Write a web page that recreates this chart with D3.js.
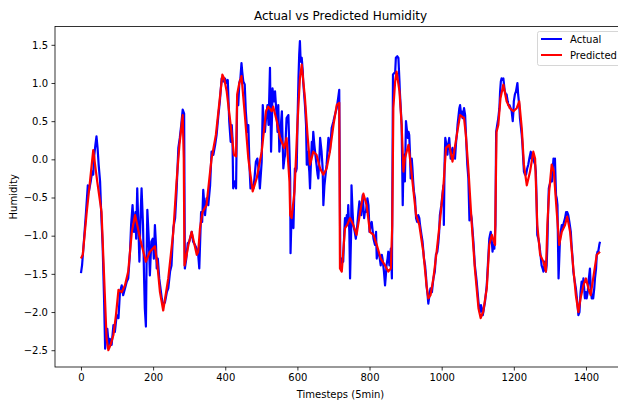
<!DOCTYPE html>
<html>
<head>
<meta charset="utf-8">
<script src="https://cdn.jsdelivr.net/npm/d3@7"></script>
<style>
    body { margin: 0; background: #fff; }
    svg text { font-family: "DejaVu Sans", sans-serif; fill: #000; }
</style>
</head>
<body>
<svg id="chart" width="618" height="403"></svg>
<script>
"use strict";

// [timestep, humidity]
const actualSeries = [
    [0,-1.49],[3,-1.39],[8,-1.08],[14,-0.69],[19,-0.34],[22,-0.42],[27,-0.29],[31,-0.16],[34,-0.20],[37,0.06],
    [40,0.19],[43,0.30],[46,0.15],[49,-0.07],[53,-0.29],[56,-0.69],[60,-1.12],[64,-1.82],[67,-2.48],[70,-2.30],
    [73,-2.22],[77,-2.43],[80,-2.35],[85,-2.43],[90,-2.17],[94,-2.26],[99,-2.04],[104,-2.08],[108,-1.74],[113,-1.65],
    [117,-1.78],[122,-1.69],[127,-1.60],[131,-1.56],[136,-1.21],[139,-0.86],[143,-0.60],[147,-0.95],[151,-0.69],[153,-1.04],
    [156,-0.38],[159,-0.86],[162,-1.34],[165,-0.77],[168,-0.38],[172,-0.86],[175,-1.56],[177,-1.95],[180,-2.19],[182,-1.30],
    [184,-0.66],[188,-1.04],[191,-1.52],[195,-1.08],[199,-1.04],[202,-1.30],[205,-0.86],[208,-1.12],[210,-1.43],[213,-1.30],
    [217,-1.56],[224,-1.82],[228,-1.91],[233,-1.87],[238,-1.74],[242,-1.69],[247,-1.47],[251,-1.39],[256,-0.90],[261,-0.77],
    [265,-0.42],[270,0.15],[274,0.28],[278,0.45],[282,0.65],[286,0.60],[288,-1.43],[292,-1.30],[296,-1.10],[300,-1.08],
    [307,-0.95],[311,-1.08],[316,-1.12],[321,-1.17],[325,-1.25],[328,-1.43],[333,-0.69],[336,-0.82],[339,-0.40],[344,-0.73],
    [348,-0.51],[353,-0.60],[358,-0.34],[362,0.10],[367,0.06],[372,0.19],[376,0.32],[381,0.58],[385,0.76],[390,1.06],
    [395,1.02],[399,1.06],[404,1.00],[407,1.04],[411,0.50],[415,0.23],[418,0.45],[420,0.28],[422,-0.38],[426,-0.29],
    [430,-0.38],[433,0.76],[436,0.71],[439,1.00],[442,1.06],[445,1.26],[447,1.15],[450,1.02],[454,0.98],[457,0.63],
    [461,0.36],[464,0.45],[467,-0.07],[470,-0.38],[474,-0.34],[478,-0.38],[481,-0.25],[485,-0.03],[489,0.01],[493,-0.16],
    [496,-0.38],[501,-0.03],[504,0.71],[507,0.45],[510,0.36],[513,0.54],[517,0.71],[520,0.45],[524,1.20],[527,0.10],
    [530,0.63],[531,0.93],[535,0.76],[538,0.89],[541,0.67],[543,0.54],[545,0.36],[547,0.71],[550,0.10],[553,0.32],
    [555,0.50],[557,0.63],[561,-0.12],[564,0.01],[566,0.06],[568,0.32],[570,0.54],[575,0.58],[578,0.10],[580,-0.25],
    [581,-1.23],[584,-0.69],[586,-0.82],[589,-0.90],[591,-0.51],[593,-0.12],[596,-0.16],[598,-0.12],[601,0.63],[603,1.06],
    [605,1.37],[607,1.55],[609,1.28],[612,1.33],[615,1.15],[616,1.02],[621,0.71],[624,0.45],[626,-0.07],[628,0.10],
    [630,0.01],[633,-0.16],[635,-0.38],[638,0.01],[640,0.23],[642,0.10],[644,0.36],[647,0.19],[649,0.10],[652,-0.03],
    [653,-0.07],[656,-0.20],[658,-0.25],[661,0.01],[663,0.28],[665,0.19],[667,0.10],[670,-0.12],[672,-0.60],[675,-0.34],
    [677,-0.25],[681,-0.07],[686,0.28],[689,0.19],[690,0.10],[695,0.41],[700,0.50],[704,0.58],[709,0.67],[713,0.80],
    [716,0.91],[719,-1.39],[723,-1.30],[727,-1.34],[730,-0.95],[732,-0.77],[735,-0.86],[737,-0.73],[739,-0.86],[741,-0.60],
    [744,-0.95],[746,-1.56],[749,-0.95],[750,-0.34],[753,-0.69],[755,-0.86],[759,-0.95],[762,-1.04],[766,-0.86],[769,-0.69],
    [772,-0.55],[774,-0.60],[777,-0.73],[781,-0.47],[785,-0.77],[787,-0.69],[790,-0.69],[794,-0.51],[797,-0.60],[800,-0.95],
    [803,-0.86],[806,-0.82],[811,-1.04],[815,-1.12],[818,-0.95],[820,-1.30],[823,-1.21],[827,-1.25],[831,-1.39],[834,-1.25],
    [836,-1.30],[840,-1.47],[843,-1.65],[846,-1.47],[847,-1.39],[850,-1.30],[852,-1.21],[855,-1.39],[859,-1.17],[862,-1.56],
    [865,1.11],[868,1.13],[871,1.13],[873,1.33],[877,1.35],[880,1.33],[883,1.02],[884,0.89],[887,0.63],[889,0.45],
    [892,-0.60],[894,-0.07],[896,0.06],[898,-0.29],[901,0.50],[903,0.41],[906,0.28],[908,0.36],[910,0.32],[912,0.10],
    [914,-0.25],[917,0.01],[919,-0.12],[921,-0.29],[923,-0.42],[926,-0.51],[929,-0.77],[932,-0.82],[935,-0.73],[938,-0.77],
    [940,-0.86],[944,-0.99],[947,-1.08],[951,-1.30],[954,-1.39],[957,-1.56],[958,-1.65],[961,-1.78],[963,-1.89],[966,-1.78],
    [969,-1.69],[973,-1.74],[977,-1.56],[981,-1.47],[984,-1.25],[988,-1.21],[991,-1.08],[993,-0.95],[995,-0.73],[999,-0.60],
    [1003,-0.42],[1005,-0.34],[1006,-0.86],[1008,-0.07],[1010,0.28],[1013,0.19],[1016,0.06],[1018,0.19],[1021,0.28],[1025,0.01],
    [1028,0.10],[1030,0.15],[1034,0.06],[1037,0.01],[1040,0.23],[1042,0.32],[1044,0.45],[1046,0.54],[1049,0.67],[1051,0.71],
    [1054,0.58],[1055,0.63],[1058,0.54],[1062,0.67],[1065,0.58],[1067,0.36],[1071,-0.07],[1074,-0.25],[1077,-0.80],[1080,-0.69],
    [1083,-0.77],[1088,-1.08],[1092,-1.39],[1097,-1.60],[1102,-1.87],[1104,-1.95],[1106,-2.00],[1109,-1.91],[1111,-1.95],[1114,-2.04],
    [1117,-1.95],[1120,-1.87],[1125,-1.65],[1128,-1.39],[1132,-1.04],[1134,-0.99],[1136,-0.95],[1139,-1.08],[1141,-1.21],[1143,-1.12],
    [1146,-1.17],[1149,-0.86],[1151,0.36],[1154,0.45],[1157,0.54],[1160,0.67],[1162,0.89],[1164,1.02],[1166,1.06],[1169,1.04],
    [1171,1.06],[1174,0.93],[1175,0.89],[1178,0.85],[1180,0.85],[1183,0.76],[1185,0.71],[1188,0.71],[1191,0.67],[1194,0.63],
    [1197,0.50],[1199,0.63],[1200,0.76],[1203,0.85],[1206,0.89],[1210,1.00],[1212,0.85],[1215,0.71],[1217,0.54],[1219,0.45],
    [1222,0.32],[1224,0.19],[1226,0.01],[1228,-0.16],[1231,-0.20],[1234,-0.20],[1237,-0.12],[1240,-0.07],[1243,0.01],[1247,0.10],
    [1249,0.01],[1252,0.06],[1256,-0.03],[1259,-0.07],[1261,-0.16],[1263,-0.51],[1265,-0.99],[1268,-1.04],[1271,-1.12],[1274,-1.25],
    [1277,-1.39],[1280,-1.43],[1282,-1.47],[1285,-1.39],[1286,-1.34],[1289,-1.47],[1291,-1.39],[1293,-1.12],[1295,-0.69],[1297,-0.38],
    [1299,-0.34],[1302,-0.29],[1306,-0.29],[1308,-0.12],[1310,0.01],[1312,-0.03],[1314,0.01],[1317,-0.47],[1319,-0.51],[1321,-0.60],
    [1322,-0.95],[1324,-1.56],[1326,-1.30],[1328,-1.04],[1330,-0.95],[1333,-0.86],[1335,-0.90],[1339,-0.82],[1342,-0.77],[1345,-0.69],
    [1346,-0.73],[1348,-0.69],[1351,-0.73],[1354,-0.82],[1358,-0.95],[1360,-1.12],[1363,-1.30],[1365,-1.47],[1369,-1.60],[1372,-1.69],
    [1376,-1.87],[1379,-2.04],[1382,-2.00],[1383,-1.91],[1385,-1.74],[1388,-1.60],[1391,-1.69],[1393,-1.56],[1395,-1.69],[1397,-1.82],
    [1400,-1.74],[1402,-1.82],[1405,-1.74],[1407,-1.60],[1409,-1.52],[1411,-1.43],[1413,-1.65],[1416,-1.82],[1419,-1.82],[1420,-1.82],
    [1423,-1.69],[1425,-1.56],[1428,-1.43],[1430,-1.25],[1432,-1.21],[1434,-1.21],[1437,-1.12],[1439,-1.08]
];

const predictedSeries = [
    [0,-1.30],[5,-1.25],[16,-0.69],[25,-0.29],[34,0.12],[45,-0.29],[57,-0.69],[64,-1.52],[71,-2.35],[76,-2.50],
    [82,-2.43],[90,-2.30],[97,-2.04],[104,-1.71],[113,-1.74],[122,-1.65],[131,-1.47],[141,-0.95],[150,-0.73],[156,-0.86],
    [164,-1.04],[173,-1.21],[180,-1.34],[191,-1.21],[205,-1.14],[212,-1.39],[219,-1.74],[228,-1.98],[242,-1.56],[256,-0.95],
    [265,-0.29],[273,0.19],[277,0.36],[282,0.58],[285,0.01],[287,-1.39],[291,-1.30],[298,-1.12],[307,-0.95],[313,-1.08],
    [321,-1.25],[325,-1.21],[330,-0.90],[337,-0.69],[348,-0.60],[356,-0.25],[362,0.01],[374,0.32],[384,0.76],[392,1.11],
    [397,1.06],[404,0.89],[415,0.45],[424,0.06],[430,0.04],[433,0.85],[439,1.00],[445,1.09],[455,0.54],[464,0.01],
    [476,-0.42],[487,-0.25],[501,0.10],[513,0.63],[519,0.69],[529,0.63],[533,0.69],[543,0.50],[552,0.28],[563,0.15],
    [570,0.28],[578,-0.29],[580,-0.73],[584,-0.77],[592,-0.42],[600,0.45],[607,1.06],[612,1.24],[621,0.80],[628,0.32],
    [635,-0.07],[644,0.10],[653,0.06],[663,-0.12],[672,-0.20],[681,-0.12],[690,0.10],[700,0.45],[709,0.71],[716,0.74],
    [718,-1.43],[723,-1.47],[732,-0.90],[738,-0.86],[746,-0.77],[755,-0.86],[764,-0.99],[774,-0.69],[783,-0.45],[792,-0.60],
    [801,-0.95],[811,-0.99],[820,-1.12],[831,-1.30],[843,-1.39],[852,-1.47],[859,-1.43],[863,-0.86],[866,0.67],[871,1.02],
    [875,1.15],[883,0.89],[889,0.45],[894,-0.16],[898,0.01],[908,0.19],[914,-0.07],[921,-0.38],[929,-0.73],[938,-0.86],
    [949,-1.21],[958,-1.65],[963,-1.82],[969,-1.78],[977,-1.56],[986,-1.21],[995,-0.82],[1005,-0.34],[1012,0.15],[1021,0.19],
    [1030,-0.03],[1042,0.32],[1051,0.58],[1062,0.54],[1067,0.32],[1074,-0.12],[1083,-0.82],[1092,-1.43],[1102,-1.95],[1108,-2.08],
    [1115,-2.00],[1125,-1.69],[1132,-1.12],[1139,-0.99],[1148,-1.12],[1152,0.36],[1157,0.45],[1163,0.80],[1171,0.98],[1180,0.76],
    [1189,0.67],[1199,0.63],[1208,0.67],[1215,0.76],[1222,0.41],[1228,-0.07],[1236,-0.34],[1245,-0.16],[1254,0.10],[1259,0.01],
    [1265,-0.86],[1273,-1.25],[1282,-1.34],[1289,-1.47],[1293,-0.86],[1298,-0.42],[1305,-0.07],[1311,-0.16],[1319,-0.69],[1326,-1.12],
    [1333,-0.95],[1342,-0.86],[1348,-0.75],[1356,-0.95],[1365,-1.43],[1372,-1.78],[1379,-2.00],[1385,-1.82],[1393,-1.65],[1400,-1.56],
    [1407,-1.69],[1413,-1.78],[1420,-1.56],[1430,-1.25],[1439,-1.21]
];

const xTicks = [0, 200, 400, 600, 800, 1000, 1200, 1400];
const yTicks = [-2.5, -2.0, -1.5, -1.0, -0.5, 0.0, 0.5, 1.0, 1.5];
const legendItems = [
    { name: "Actual", color: "#0000ff" },
    { name: "Predicted", color: "#ff0000" }
];

const plot = { left: 55, right: 626, top: 26.5, bottom: 367 };

const svg = d3.select("#chart");

const x = d3.scaleLinear().domain([-72, 1511]).range([plot.left, plot.right]);
const y = d3.scaleLinear().domain([-2.72, 1.74]).range([plot.bottom, plot.top]);

svg.append("defs").append("clipPath").attr("id", "clip")
    .append("rect")
    .attr("x", plot.left).attr("y", plot.top)
    .attr("width", plot.right - plot.left).attr("height", plot.bottom - plot.top);

const line = d3.line().x(d => x(d[0])).y(d => y(d[1]));

const lines = svg.append("g").attr("clip-path", "url(#clip)");
lines.append("path")
    .datum(actualSeries)
    .attr("d", line)
    .attr("fill", "none")
    .attr("stroke", legendItems[0].color)
    .attr("stroke-width", 2.2)
    .attr("stroke-linejoin", "round");
lines.append("path")
    .datum(predictedSeries)
    .attr("d", line)
    .attr("fill", "none")
    .attr("stroke", legendItems[1].color)
    .attr("stroke-width", 2.2)
    .attr("stroke-linejoin", "round");

// axes
const xAxis = svg.append("g")
    .attr("transform", `translate(0,${plot.bottom})`)
    .call(d3.axisBottom(x).tickValues(xTicks).tickFormat(d3.format("d")).tickSize(3.5).tickPadding(3.5).tickSizeOuter(0));
const yAxis = svg.append("g")
    .attr("transform", `translate(${plot.left},0)`)
    .call(d3.axisLeft(y).tickValues(yTicks).tickFormat(d3.format(".1f")).tickSize(3.5).tickPadding(3.5).tickSizeOuter(0));

for (let ax of [xAxis, yAxis]) {
    ax.select(".domain").remove();
    ax.selectAll("text").attr("font-size", 10).attr("font-family", null);
    ax.selectAll("line").attr("stroke", "#000").attr("stroke-width", 0.8);
}

// frame
svg.append("rect")
    .attr("x", plot.left).attr("y", plot.top)
    .attr("width", plot.right - plot.left).attr("height", plot.bottom - plot.top)
    .attr("fill", "none").attr("stroke", "#000").attr("stroke-width", 0.8);

// titles
svg.append("text")
    .attr("x", (plot.left + plot.right) / 2).attr("y", 20)
    .attr("text-anchor", "middle").attr("font-size", 12)
    .text("Actual vs Predicted Humidity");
svg.append("text")
    .attr("x", (plot.left + plot.right) / 2).attr("y", 398)
    .attr("text-anchor", "middle").attr("font-size", 10)
    .text("Timesteps (5min)");
svg.append("text")
    .attr("transform", `translate(17,${(plot.top + plot.bottom) / 2}) rotate(-90)`)
    .attr("text-anchor", "middle").attr("font-size", 10)
    .text("Humidity");

// legend
const legend = svg.append("g");
legend.append("rect")
    .attr("x", 537.5).attr("y", 31.5).attr("width", 84).attr("height", 34).attr("rx", 2)
    .attr("fill", "#fff").attr("fill-opacity", 0.8)
    .attr("stroke", "#cccccc").attr("stroke-width", 0.8);
const legendRows = legend.selectAll("g.row")
    .data(legendItems)
    .enter()
    .append("g")
    .attr("class", "row")
    .attr("transform", (d, i) => `translate(0,${39 + i * 16})`);
legendRows.append("line")
    .attr("x1", 541).attr("x2", 562)
    .attr("stroke", d => d.color).attr("stroke-width", 2);
legendRows.append("text")
    .attr("x", 570).attr("dy", "0.35em").attr("font-size", 10)
    .text(d => d.name);
</script>
</body>
</html>
